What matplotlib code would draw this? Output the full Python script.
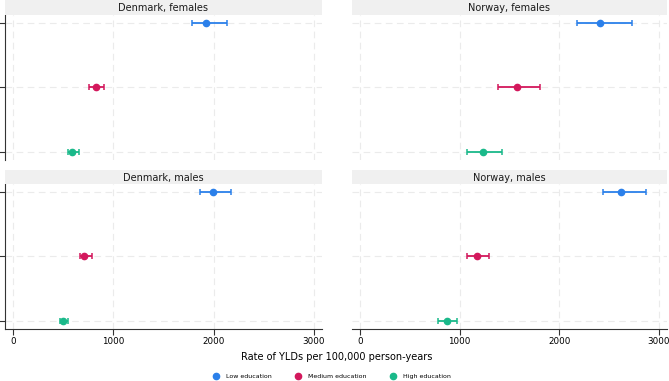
import matplotlib
matplotlib.use('Agg')
import matplotlib.pyplot as plt
from matplotlib.lines import Line2D

# Datos
paneles = ["Denmark, females", "Norway, females", "Denmark, males", "Norway, males"]
niveles = ["Low education", "Medium education", "High education"]
colores = ["#2b80ea", "#d3185c", "#1ab98a"]

tasa = {
    "Denmark, females": [1925, 825, 592],
    "Norway, females": [2410, 1572, 1230],
    "Denmark, males": [1995, 710, 495],
    "Norway, males": [2620, 1170, 870],
}
bajo = {
    "Denmark, females": [1780, 760, 545],
    "Norway, females": [2177, 1386, 1074],
    "Denmark, males": [1860, 670, 465],
    "Norway, males": [2440, 1075, 780],
}
alto = {
    "Denmark, females": [2130, 910, 662],
    "Norway, females": [2732, 1802, 1420],
    "Denmark, males": [2175, 790, 550],
    "Norway, males": [2870, 1290, 970],
}
xticks = [0, 1000, 2000, 3000]

W, H = 669, 381
fig = plt.figure(figsize=(W / 100, H / 100), dpi=100)

def px_axes(x0, y0, x1, y1):
    return fig.add_axes([x0 / W, 1 - y1 / H, (x1 - x0) / W, (y1 - y0) / H])

# (x0, y_plot_top, x1, y_plot_bottom, strip_top)
cajas = [
    (5, 15, 322, 160, 0),
    (352, 15, 667, 160, 0),
    (5, 184, 322, 329, 170),
    (352, 184, 667, 329, 170),
]

for i, nombre in enumerate(paneles):
    x0, yt, x1, yb, st = cajas[i]
    ax = px_axes(x0, yt, x1, yb)
    izq = (i % 2 == 0)
    abajo = (i >= 2)

    for k in range(3):
        v = tasa[nombre][k]
        ax.errorbar([v], [k], xerr=[[v - bajo[nombre][k]], [alto[nombre][k] - v]],
                    fmt='o', color=colores[k], markersize=4.5, elinewidth=1.3,
                    capsize=2.5, capthick=1.1, zorder=3)

    ax.set_xlim(-80, 3080)
    ax.set_ylim(2.13, -0.13)
    ax.set_xticks(xticks)
    ax.set_yticks([0, 1, 2])
    ax.grid(True, linestyle=(0, (6, 4)), color='#ebebeb', linewidth=0.8)
    ax.set_axisbelow(True)
    for s in ['top', 'right']:
        ax.spines[s].set_visible(False)
    ax.spines['left'].set_visible(izq)
    ax.spines['bottom'].set_visible(abajo)
    ax.spines['left'].set_color('#333333')
    ax.spines['bottom'].set_color('#333333')
    ax.tick_params(axis='y', labelleft=False, left=izq, length=4, color='#333333')
    ax.tick_params(axis='x', labelbottom=abajo, bottom=abajo, length=4,
                   color='#333333', labelsize=6.3, pad=2)

    # banda del titulo
    sx = fig.add_axes([x0 / W, 1 - yt / H, (x1 - x0) / W, (yt - st) / H])
    sx.set_facecolor('#f0f0f0')
    sx.set_xticks([])
    sx.set_yticks([])
    for s in sx.spines.values():
        s.set_visible(False)
    sx.text(0.5, 0.45, nombre, ha='center', va='center', fontsize=7, color='#1a1a1a')

fig.text(337 / W, 1 - 357 / H, "Rate of YLDs per 100,000 person-years",
         ha='center', va='center', fontsize=7)

handles = [Line2D([], [], marker='o', linestyle='', color=c, markersize=4.5) for c in colores]
fig.legend(handles, niveles, loc='center', bbox_to_anchor=(330 / W, 1 - 376 / H),
           ncol=3, frameon=False, fontsize=4.5, handletextpad=0.6, columnspacing=3.2)

plt.savefig("out.png", dpi=100)
plt.close()
